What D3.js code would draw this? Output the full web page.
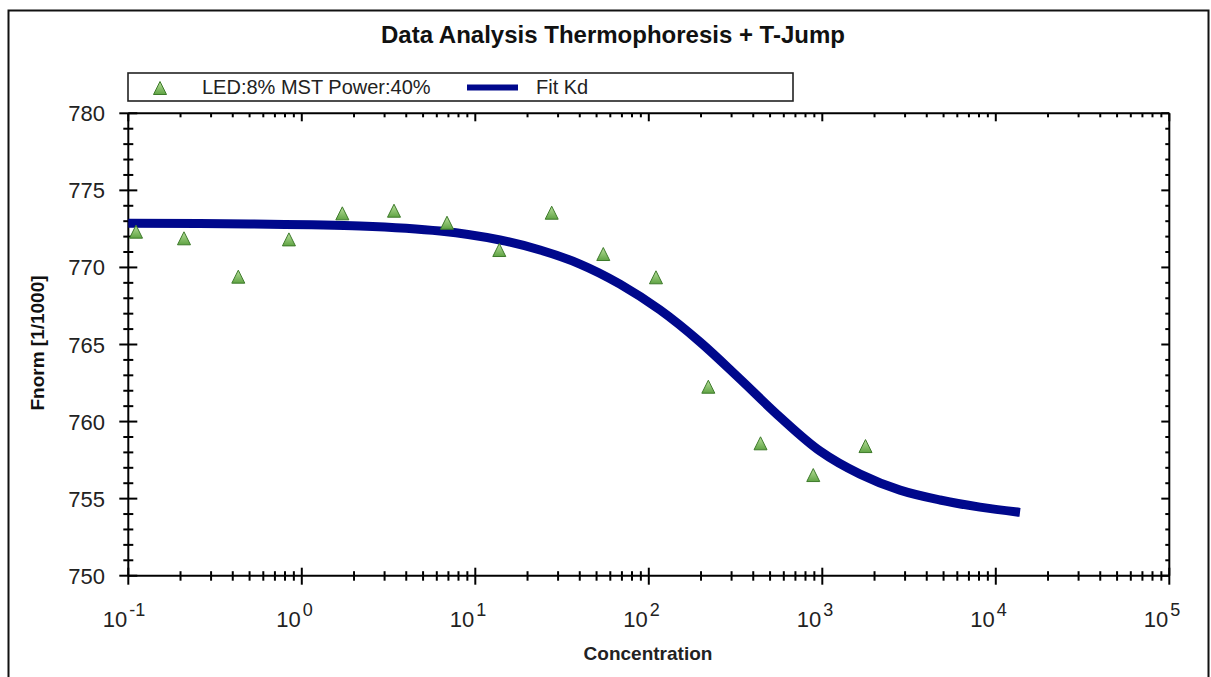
<!DOCTYPE html>
<html>
<head>
<meta charset="utf-8">
<script src="https://cdn.jsdelivr.net/npm/d3@7"></script>
<style>
  html, body { margin: 0; padding: 0; background: #fff; }
  svg { display: block; font-family: "Liberation Sans", Arial, sans-serif; }
</style>
</head>
<body>
<svg id="chart" width="1211" height="677"></svg>
<script>
// ---- data ----
const concentrations = [0.1108, 0.2094, 0.4305, 0.843, 1.712, 3.40, 6.87, 13.75, 27.56, 54.66, 110.0, 220.3, 440.5, 887, 1774];
const fnormValues    = [772.32, 771.89, 769.40, 771.82, 773.51, 773.68, 772.90, 771.13, 773.55, 770.87, 769.36, 762.26, 758.59, 756.53, 758.41];

const fitConcentrations = [0.1, 0.503, 2.165, 6.26, 13.88, 23.6, 40.1, 68.2, 116.0, 197.3, 335.4, 570.6, 970, 1650, 2804, 4770, 8108, 13790];
const fitValues         = [772.86, 772.82, 772.69, 772.36, 771.78, 771.13, 770.22, 768.92, 767.24, 765.16, 762.76, 760.29, 758.09, 756.59, 755.55, 754.91, 754.45, 754.11];

const xMajorTicks = [0.1, 1, 10, 100, 1000, 10000, 100000];
const xTickExponents = ["-1", "0", "1", "2", "3", "4", "5"];
const yMajorTicks = [750, 755, 760, 765, 770, 775, 780];

const titleText = "Data Analysis Thermophoresis + T-Jump";
const seriesLabel = "LED:8% MST Power:40%";
const fitLabel = "Fit Kd";
const xLabel = "Concentration";
const yLabel = "Fnorm [1/1000]";

(function () {
// ---- layout ----
const svg = d3.select("#chart");
const pLeft = 128.3, pRight = 1169.3, pTop = 113.3, pBottom = 575.7;
const x = d3.scaleLog().domain([0.1, 100000]).range([pLeft, pRight]);
const y = d3.scaleLinear().domain([750, 780]).range([pBottom, pTop]);
const curveColor = "#00088c";

// gradient for markers
const defs = svg.append("defs");
const grad = defs.append("linearGradient").attr("id", "tri").attr("x1", 0).attr("y1", 0).attr("x2", 0).attr("y2", 1);
grad.append("stop").attr("offset", "0%").attr("stop-color", "#b9e09c");
grad.append("stop").attr("offset", "100%").attr("stop-color", "#5fa343");

// outer frame
svg.append("rect").attr("x", 8.5).attr("y", 10.5).attr("width", 1200).attr("height", 700)
  .attr("fill", "none").attr("stroke", "#111").attr("stroke-width", 2);

// title
svg.append("text").attr("x", 613).attr("y", 43).attr("text-anchor", "middle")
  .attr("font-size", 24).attr("font-weight", "bold").attr("fill", "#111").text(titleText);

// legend
const lg = svg.append("g");
lg.append("rect").attr("x", 128).attr("y", 73).attr("width", 665).attr("height", 28)
  .attr("fill", "#fff").attr("stroke", "#222").attr("stroke-width", 1.6);
const triPath = (cx, cy, s) => `M${cx},${cy - s / 2} L${cx + s / 2},${cy + s / 2} L${cx - s / 2},${cy + s / 2} Z`;
lg.append("path").attr("d", triPath(160, 88, 13)).attr("fill", "url(#tri)").attr("stroke", "#3d7a2a").attr("stroke-width", 1);
lg.append("text").attr("x", 202).attr("y", 94).attr("font-size", 20).attr("fill", "#222").text(seriesLabel);
lg.append("line").attr("x1", 467).attr("x2", 518).attr("y1", 87.5).attr("y2", 87.5)
  .attr("stroke", curveColor).attr("stroke-width", 6);
lg.append("text").attr("x", 536).attr("y", 94).attr("font-size", 20).attr("fill", "#222").text(fitLabel);

// axes frame
const ax = svg.append("g").attr("stroke", "#000").attr("stroke-width", 2).attr("fill", "none");
ax.append("line").attr("x1", pLeft).attr("x2", pRight).attr("y1", pBottom).attr("y2", pBottom);
ax.append("line").attr("x1", pLeft).attr("x2", pRight).attr("y1", pTop).attr("y2", pTop);
ax.append("line").attr("x1", pLeft).attr("x2", pLeft).attr("y1", pTop).attr("y2", pBottom);
ax.append("line").attr("x1", pRight).attr("x2", pRight).attr("y1", pTop).attr("y2", pBottom);

// x ticks
const xMinor = [];
for (let i = 0; i < xMajorTicks.length - 1; i++) {
  for (let m = 2; m <= 9; m++) xMinor.push(xMajorTicks[i] * m);
}
const tk = svg.append("g").attr("stroke", "#000").attr("stroke-width", 2);
xMajorTicks.forEach(v => {
  const px = x(v);
  tk.append("line").attr("x1", px).attr("x2", px).attr("y1", pBottom - 8).attr("y2", pBottom + 9);
  tk.append("line").attr("x1", px).attr("x2", px).attr("y1", pTop).attr("y2", pTop + 8);
});
xMinor.forEach(v => {
  const px = x(v);
  tk.append("line").attr("x1", px).attr("x2", px).attr("y1", pBottom - 4.5).attr("y2", pBottom + 5);
  tk.append("line").attr("x1", px).attr("x2", px).attr("y1", pTop).attr("y2", pTop + 4);
});
// y ticks
const yMinor = d3.range(750, 781, 1).filter(v => v % 5 !== 0);
yMajorTicks.forEach(v => {
  const py = y(v);
  tk.append("line").attr("x1", pLeft - 9).attr("x2", pLeft + 9).attr("y1", py).attr("y2", py);
  tk.append("line").attr("x1", pRight - 8).attr("x2", pRight).attr("y1", py).attr("y2", py);
});
yMinor.forEach(v => {
  const py = y(v);
  tk.append("line").attr("x1", pLeft - 5).attr("x2", pLeft + 5).attr("y1", py).attr("y2", py);
  tk.append("line").attr("x1", pRight - 4).attr("x2", pRight).attr("y1", py).attr("y2", py);
});

// tick labels
const tl = svg.append("g").attr("fill", "#222");
xMajorTicks.forEach((v, i) => {
  const px = x(v);
  tl.append("text").attr("x", px - 1).attr("y", 627).attr("text-anchor", "end").attr("font-size", 22).text("10");
  tl.append("text").attr("x", px + 1).attr("y", 616).attr("text-anchor", "start").attr("font-size", 18).text(xTickExponents[i]);
});
yMajorTicks.forEach(v => {
  tl.append("text").attr("x", 105).attr("y", y(v) + 8).attr("text-anchor", "end").attr("font-size", 22).text(v);
});

// axis titles
svg.append("text").attr("x", 648).attr("y", 660).attr("text-anchor", "middle")
  .attr("font-size", 19).attr("font-weight", "bold").attr("fill", "#222").text(xLabel);
svg.append("text").attr("transform", "translate(44,343) rotate(-90)").attr("text-anchor", "middle")
  .attr("font-size", 19).attr("font-weight", "bold").attr("fill", "#111").text(yLabel);

// fit curve
const line = d3.line().x(d => x(d[0])).y(d => y(d[1])).curve(d3.curveCatmullRom.alpha(0.5));
svg.append("path").datum(fitConcentrations.map((c, i) => [c, fitValues[i]]))
  .attr("d", line).attr("fill", "none").attr("stroke", curveColor).attr("stroke-width", 9);

// data points
svg.append("g").selectAll("path").data(concentrations.map((c, i) => [c, fnormValues[i]]))
  .join("path")
  .attr("d", d => triPath(x(d[0]), y(d[1]), 13))
  .attr("fill", "url(#tri)").attr("stroke", "#3d7a2a").attr("stroke-width", 1);
})();
</script>
</body>
</html>
